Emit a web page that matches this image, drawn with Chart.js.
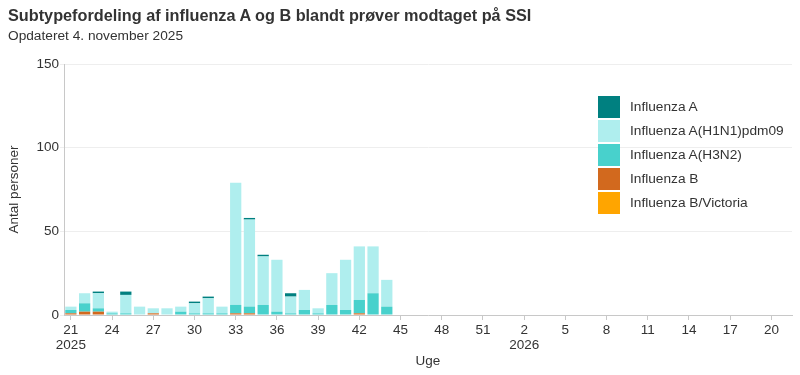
<!DOCTYPE html>
<html>
<head>
<meta charset="utf-8">
<script src="https://cdn.jsdelivr.net/npm/chart.js@4"></script>
<style>
  html, body { margin: 0; padding: 0; background: #fff; }
  #wrap { position: relative; width: 800px; height: 375px; font-family: 'Liberation Sans', Arial, sans-serif; color: #333; }
  #title { position: absolute; left: 8px; top: 6px; font-size: 16.25px; line-height: 18px; font-weight: bold; white-space: nowrap; }
  #subtitle { position: absolute; left: 8px; top: 28px; font-size: 13.7px; line-height: 16px; white-space: nowrap; }
  #legend { position: absolute; left: 598px; top: 96px; }
  .item { position: relative; height: 24px; font-size: 13.7px; line-height: 22px; white-space: nowrap; }
  .sw { position: absolute; left: 0; top: 0; width: 22px; height: 22px; }
  .lbl { position: absolute; left: 32px; top: 0; }
  canvas { position: absolute; left: 0; top: 0; }
</style>
</head>
<body>
<div id="wrap">
  <canvas id="c" width="800" height="375"></canvas>
  <div id="title">Subtypefordeling af influenza A og B blandt prøver modtaget på SSI</div>
  <div id="subtitle">Opdateret 4. november 2025</div>
  <div id="legend"></div>
</div>
<script>
// Categories: ISO weeks 21/2025 .. 21/2026
const weeks = [21,22,23,24,25,26,27,28,29,30,31,32,33,34,35,36,37,38,39,40,41,42,43,44,45,46,47,48,49,50,51,52,
               1,2,3,4,5,6,7,8,9,10,11,12,13,14,15,16,17,18,19,20,21];
const yearStartIndex = {0: '2025', 33: '2026'}; // year shown under first labelled week of each year

// Series values (weeks 21..44 of 2025; later weeks have no data yet)
const influenzaBVictoria = [0,0,0,0,0,0,0,0,0,0,0,0,0,0,0,0,0,0,0,0,0,0,0,0];
const influenzaB         = [1,2,2,0,0,0,1,0,0,0,0,0,1,1,0,0,0,0,0,0,0,1,0,0];
const influenzaH3N2      = [2,5,2,1,1,0,0,0,2,1,1,1,5,4,6,2,1,3,1,6,3,8,13,5];
const influenzaH1N1      = [2,6,9,1,11,5,3,4,3,6,9,4,73,52,29,31,10,12,3,19,30,32,28,16];
const influenzaA         = [0,0,1,0,2,0,0,0,0,1,1,0,0,1,1,0,2,0,0,0,0,0,0,0];

const yTicks = [0, 50, 100, 150];

function pad(arr) {
  const out = arr.slice();
  while (out.length < weeks.length) out.push(null);
  return out;
}

const datasets = [
  { label: 'Influenza B/Victoria', data: pad(influenzaBVictoria), backgroundColor: '#FFA500' },
  { label: 'Influenza B',          data: pad(influenzaB),         backgroundColor: '#D2691E' },
  { label: 'Influenza A(H3N2)',    data: pad(influenzaH3N2),      backgroundColor: '#48D1CC' },
  { label: 'Influenza A(H1N1)pdm09', data: pad(influenzaH1N1),    backgroundColor: '#AFEEEE' },
  { label: 'Influenza A',          data: pad(influenzaA),         backgroundColor: '#008080' }
];

const labels = weeks.map((w, i) => yearStartIndex[i] ? [String(w), yearStartIndex[i]] : String(w));

Chart.defaults.font.family = "'Liberation Sans', Arial, sans-serif";
Chart.defaults.color = '#333';

new Chart(document.getElementById('c'), {
  type: 'bar',
  data: { labels: labels, datasets: datasets.map(d => Object.assign({
    borderWidth: 0, barPercentage: 0.82, categoryPercentage: 1.0
  }, d)) },
  options: {
    responsive: false,
    animation: false,
    layout: { padding: { top: 64, right: 8, left: 0, bottom: 0 } },
    plugins: { legend: { display: false }, tooltip: { enabled: false }, title: { display: false } },
    scales: {
      x: {
        stacked: true,
        offset: true,
        afterFit: s => { s.height = 60; },
        border: { color: '#c8c8c8', width: 1 },
        grid: { drawOnChartArea: false, drawTicks: true, tickLength: 5, color: '#c8c8c8', offset: false },
        ticks: {
          autoSkip: false, maxRotation: 0, minRotation: 0, padding: 3,
          font: { size: 13.5, lineHeight: 1.08 }, color: '#333',
          callback: function(v, i) { return i % 3 === 0 ? labels[i] : null; }
        },
        title: { display: true, text: 'Uge', font: { size: 13.5 }, color: '#333', padding: { top: 0, bottom: 6 } }
      },
      y: {
        stacked: true,
        min: 0, max: 150,
        afterFit: s => { s.width = 64; },
        afterBuildTicks: s => { s.ticks = yTicks.map(v => ({ value: v })); },
        border: { color: '#c8c8c8', width: 1 },
        grid: { color: '#eeeeee', tickLength: 4, drawTicks: true },
        ticks: { padding: 1, font: { size: 13.5 }, color: '#333' },
        title: { display: true, text: 'Antal personer', font: { size: 13.5 }, color: '#333', padding: { top: 6, bottom: 0 } }
      }
    }
  }
});

// HTML legend (reverse order, as in reference)
const leg = document.getElementById('legend');
datasets.slice().reverse().forEach(d => {
  const it = document.createElement('div');
  it.className = 'item';
  const sw = document.createElement('div'); sw.className = 'sw'; sw.style.background = d.backgroundColor;
  const lb = document.createElement('div'); lb.className = 'lbl'; lb.textContent = d.label;
  it.appendChild(sw); it.appendChild(lb); leg.appendChild(it);
});
</script>
</body>
</html>
